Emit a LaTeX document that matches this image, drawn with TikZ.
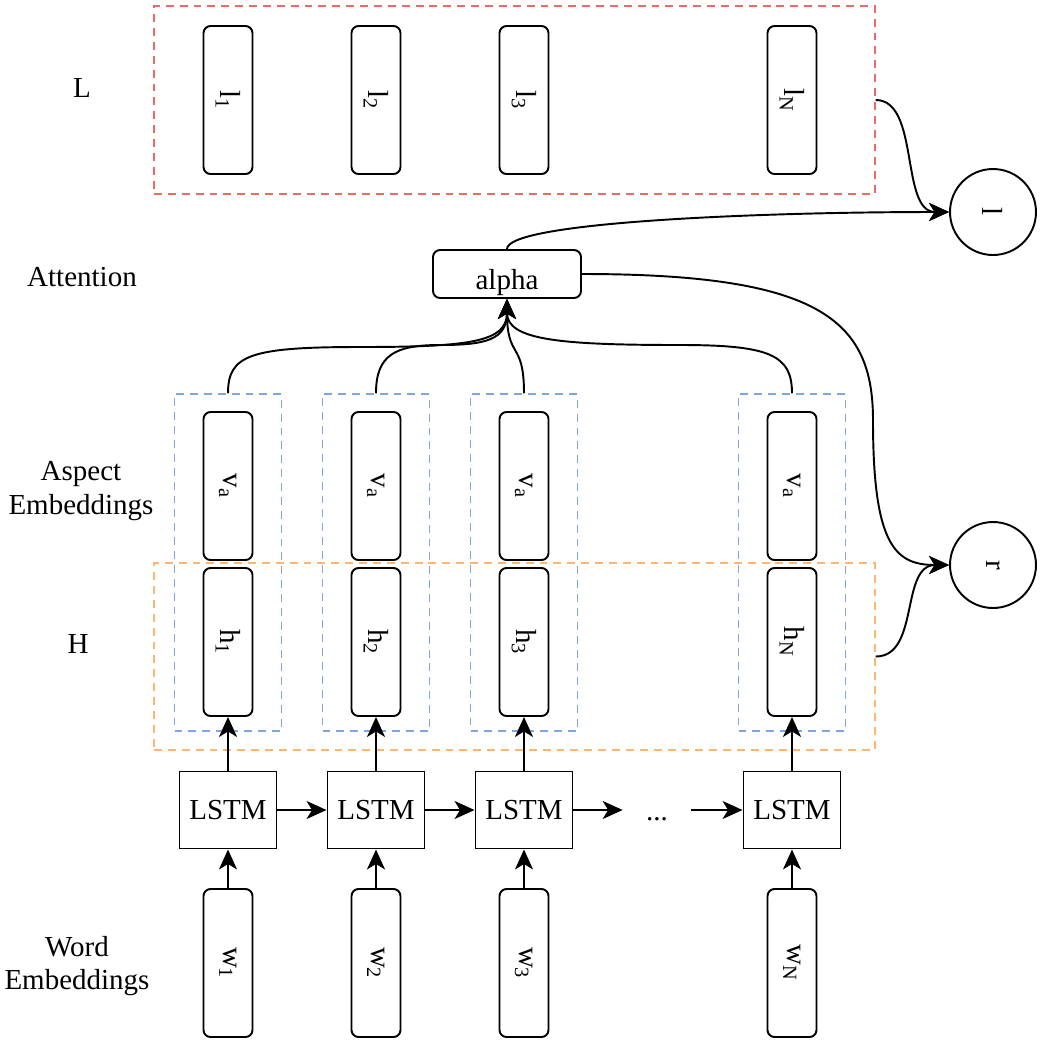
\documentclass[tikz,border=0pt]{standalone}
\usepackage{fontspec}
\setmainfont{Liberation Serif}
\usepackage{graphicx}
\usetikzlibrary{arrows.meta}

\definecolor{redgrp}{HTML}{EA6B66}
\definecolor{bluegrp}{HTML}{7EA6E0}
\definecolor{orangegrp}{HTML}{FFB570}

\tikzset{
  vec/.style={draw, line width=1.1pt, rounded corners=0.14cm, minimum width=0.98cm, minimum height=2.96cm, inner sep=0pt},
  cell/.style={draw, line width=1.1pt, minimum width=1.94cm, minimum height=1.54cm, inner sep=0pt},
  grp/.style={draw, line width=0.9pt, dash pattern=on 4.5pt off 3.4pt},
  outcirc/.style={draw, circle, line width=1.1pt, minimum size=1.72cm, inner sep=0pt},
  conn/.style={line width=1.1pt, -{Stealth[length=0.4cm, width=0.36cm, inset=0.11cm]}},
}
\newcommand{\rot}[1]{\rotatebox{-90}{#1}}

\begin{document}
\begin{tikzpicture}[x=0.02cm, y=-0.02cm, font=\fontsize{16.5pt}{19pt}\selectfont]
      \useasboundingbox (0,0) rectangle (1046,1046);

      % Groups
      \node[grp, draw=redgrp, minimum width=14.42cm, minimum height=3.76cm] (Lgrp) at (514.5,100) {};
      \node[grp, draw=orangegrp, minimum width=14.42cm, minimum height=3.74cm] (Hgrp) at (514.5,656.5) {};
      \node[grp, draw=bluegrp, minimum width=2.14cm, minimum height=6.74cm] (g1) at (228,562.5) {};
      \node[grp, draw=bluegrp, minimum width=2.14cm, minimum height=6.74cm] (g2) at (376,562.5) {};
      \node[grp, draw=bluegrp, minimum width=2.14cm, minimum height=6.74cm] (g3) at (524,562.5) {};
      \node[grp, draw=bluegrp, minimum width=2.14cm, minimum height=6.74cm] (gN) at (792,562.5) {};

      % Row labels
      \node (labL) at (82,88) {L};
      \node (labAtt) at (82,277) {Attention};
      \node[align=center] (labAsp) at (81,491) {Aspect\\Embeddings};
      \node (labH) at (78,644) {H};
      \node[align=center] (labWord) at (77,966) {Word\\Embeddings};

      % L vectors
      \node[vec] (l1) at (228,100) {\rot{l\textsubscript{1}}};
      \node[vec] (l2) at (376,100) {\rot{l\textsubscript{2}}};
      \node[vec] (l3) at (524,100) {\rot{l\textsubscript{3}}};
      \node[vec] (lN) at (792,100) {\rot{l\textsubscript{N}}};

      % Aspect embeddings
      \node[vec] (v1) at (228,486) {\rot{v\textsubscript{a}}};
      \node[vec] (v2) at (376,486) {\rot{v\textsubscript{a}}};
      \node[vec] (v3) at (524,486) {\rot{v\textsubscript{a}}};
      \node[vec] (vN) at (792,486) {\rot{v\textsubscript{a}}};

      % Hidden states
      \node[vec] (h1) at (228,642) {\rot{h\textsubscript{1}}};
      \node[vec] (h2) at (376,642) {\rot{h\textsubscript{2}}};
      \node[vec] (h3) at (524,642) {\rot{h\textsubscript{3}}};
      \node[vec] (hN) at (792,642) {\rot{h\textsubscript{N}}};

      % LSTM cells
      \node[cell] (c1) at (228,810) {LSTM};
      \node[cell] (c2) at (376,810) {LSTM};
      \node[cell] (c3) at (524,810) {LSTM};
      \node[cell] (cN) at (792,810) {LSTM};
      \node[minimum width=1.36cm, text height=0.4cm, text depth=0pt, inner sep=0pt] (dots) at (657,810) {...};

      % Word embeddings
      \node[vec] (w1) at (228,963) {\rot{w\textsubscript{1}}};
      \node[vec] (w2) at (376,963) {\rot{w\textsubscript{2}}};
      \node[vec] (w3) at (524,963) {\rot{w\textsubscript{3}}};
      \node[vec] (wN) at (792,963) {\rot{w\textsubscript{N}}};

      % Attention and outputs
      \node[draw, line width=1.1pt, rounded corners=0.14cm, minimum width=2.96cm, minimum height=0.96cm, text height=0.6cm, text depth=0pt, inner sep=0pt] (alpha) at (507,274) {alpha};
      \node[outcirc] (lc) at (993,212) {\rot{l}};
      \node[outcirc] (rc) at (993,565) {\rot{r}};

      % Connectors
      \draw[conn] (w1) -- (c1);
      \draw[conn] (w2) -- (c2);
      \draw[conn] (w3) -- (c3);
      \draw[conn] (wN) -- (cN);
      \draw[conn] (c1) -- (h1);
      \draw[conn] (c2) -- (h2);
      \draw[conn] (c3) -- (h3);
      \draw[conn] (cN) -- (hN);
      \draw[conn] (c1) -- (c2);
      \draw[conn] (c2) -- (c3);
      \draw[conn] (c3) -- (dots);
      \draw[conn] (dots) -- (cN);

      \draw[conn] (g1.north) .. controls (228,355) and (250,347) .. (360,347) .. controls (470,347) and (507,342) .. (alpha.south);
      \draw[conn] (g2.north) .. controls (376,355) and (395,345) .. (440,345) .. controls (485,345) and (507,340) .. (alpha.south);
      \draw[conn] (g3.north) .. controls (524,340) and (507,360) .. (alpha.south);
      \draw[conn] (gN.north) .. controls (792,355) and (770,345) .. (680,345) .. controls (560,345) and (507,340) .. (alpha.south);

      \draw[conn] (alpha.north) .. controls (507,222) and (760,212) .. (lc.west);
      \draw[conn] (Lgrp.east) .. controls (920,100) and (900,212) .. (lc.west);
      \draw[conn] (alpha.east) .. controls (820,274) and (873,320) .. (873,420) .. controls (873,545) and (895,565) .. (rc.west);
      \draw[conn] (Hgrp.east) .. controls (920,656.5) and (900,565) .. (rc.west);
\end{tikzpicture}
\end{document}
